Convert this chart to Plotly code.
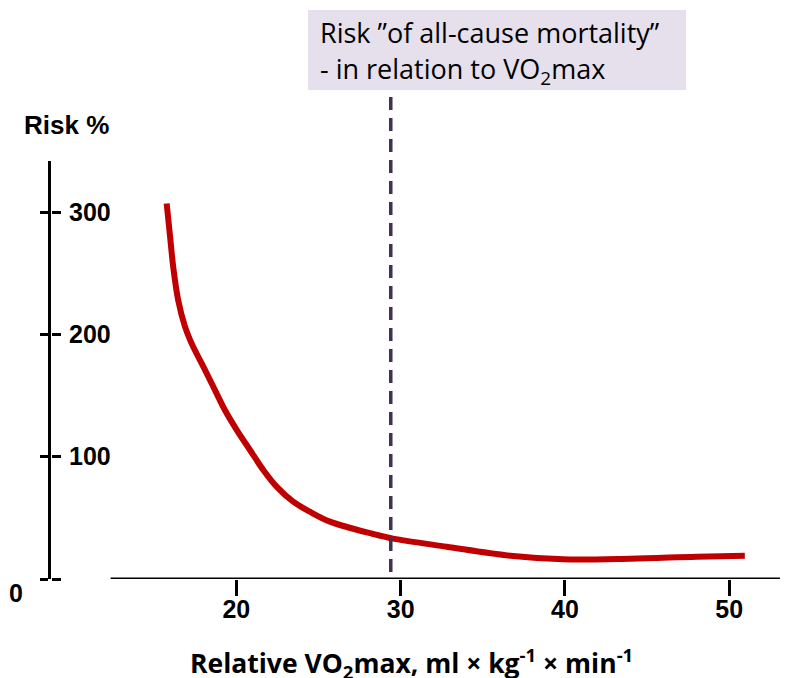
import plotly.graph_objects as go

# data
vo2 = [15.76, 15.96, 16.16, 16.46, 16.87, 17.17, 17.48, 18.09, 18.70, 19.31, 20.02, 20.83,
       21.64, 22.45, 23.46, 24.48, 25.70, 28.33, 29.55, 32.8, 36.85, 39.9, 43.96, 48.0, 50.95]
risk = [307, 281, 255, 228, 206.5, 196, 187, 171, 154.5, 138, 122, 105.5,
        89.1, 75.5, 63.2, 55.0, 46.9, 36.8, 33.0, 26.4, 18.8, 16.1, 16.6, 18.2, 19]
x_ticks = [20, 30, 40, 50]
y_ticks = [0, 100, 200, 300]
y_tick_text = ["", "100", "200", "300"]
marker_x = 29.4

X_RANGE = [8.72, 53.09]
Y_RANGE = [0, 341.8]

tick_font = dict(family="Liberation Sans, Arial", size=25, color="black", weight="bold")

fig = go.Figure()
fig.add_trace(go.Scatter(
    x=vo2, y=risk, mode="lines",
    line=dict(color="#c00000", width=6, shape="spline", smoothing=1.0),
    hoverinfo="skip", showlegend=False,
))
# invisible traces for overlay axes (inside tick marks, tick labels)
for ax in ["y2", "y3"]:
    fig.add_trace(go.Scatter(x=[vo2[0]], y=[risk[0]], yaxis=ax, mode="markers",
                             marker=dict(opacity=0), showlegend=False, hoverinfo="skip"))

fig.update_layout(
    width=787, height=678,
    margin=dict(l=51, r=7, t=161, b=99),
    paper_bgcolor="white", plot_bgcolor="white",
    showlegend=False,
    xaxis=dict(
        range=X_RANGE, showgrid=False, zeroline=False, showline=False, automargin=False,
        tickvals=x_ticks, ticks="outside", ticklen=16, tickwidth=3, tickcolor="black",
        ticklabelstandoff=-8,
        tickfont=tick_font,
    ),
    yaxis=dict(
        range=Y_RANGE, showgrid=False, zeroline=False, automargin=False,
        showline=True, linewidth=3, linecolor="black",
        tickvals=y_ticks, ticks="outside", ticklen=8, tickwidth=3, tickcolor="black",
        showticklabels=False,
    ),
    yaxis2=dict(
        range=Y_RANGE, overlaying="y", anchor="free", position=0, side="right",
        showgrid=False, zeroline=False, automargin=False, showline=False,
        tickvals=y_ticks, ticks="outside", ticklen=9, tickwidth=3, tickcolor="black",
        showticklabels=False,
    ),
    yaxis3=dict(
        range=Y_RANGE, overlaying="y", anchor="free", position=(68 - 51) / 729, side="right",
        showgrid=False, zeroline=False, automargin=False, showline=False,
        tickvals=y_ticks, ticktext=y_tick_text, ticks="",
        tickfont=tick_font,
    ),
)

# x axis baseline (starts right of the y axis)
fig.add_shape(type="line", xref="x", yref="y", x0=12.35, x1=X_RANGE[1], y0=0, y1=0,
              line=dict(color="black", width=3))

# dashed marker line
fig.add_shape(type="line", xref="x", yref="paper", x0=marker_x, x1=marker_x,
              y0=0.017, y1=1.165, line=dict(color="#403152", width=3.5, dash="13px,8px"))

# annotation box
fig.add_shape(type="rect", xref="paper", yref="paper",
              x0=(308 - 51) / 729, x1=(686 - 51) / 729,
              y0=(579 - 90) / 418, y1=(579 - 10) / 418,
              fillcolor="#e5e0ec", line=dict(width=0), layer="below")
box_font = dict(family="Open Sans, Lato", size=27, color="black")
fig.add_annotation(xref="paper", yref="paper", x=(318 - 51) / 729, y=(579 - 33) / 418,
                   xanchor="left", yanchor="middle", showarrow=False,
                   text="Risk ”of all-cause mortality”", font=box_font)
fig.add_annotation(xref="paper", yref="paper", x=(318 - 51) / 729, y=(579 - 70) / 418,
                   xanchor="left", yanchor="middle", showarrow=False,
                   text="- in relation to VO<sub>2</sub>max", font=box_font)

# axis titles and the zero label
fig.add_annotation(xref="paper", yref="paper", x=(22 - 51) / 729, y=(579 - 125) / 418,
                   xanchor="left", yanchor="middle", showarrow=False,
                   text="Risk %", font=dict(family="Liberation Sans, Arial", size=26, color="black", weight="bold"))
fig.add_annotation(xref="paper", yref="paper", x=(16 - 51) / 729, y=(579 - 593) / 418,
                   xanchor="center", yanchor="middle", showarrow=False,
                   text="0", font=tick_font)
fig.add_annotation(xref="paper", yref="paper", x=(411 - 51) / 729, y=(579 - 663) / 418,
                   xanchor="center", yanchor="middle", showarrow=False,
                   text="Relative VO<sub>2</sub>max, ml × kg<sup>-1</sup> × min<sup>-1</sup>",
                   font=dict(family="Open Sans, Lato", size=26.5, color="black", weight="bold"))

fig.write_html("out.html", post_script="document.body.style.margin='0';",
               config={"displayModeBar": False})
